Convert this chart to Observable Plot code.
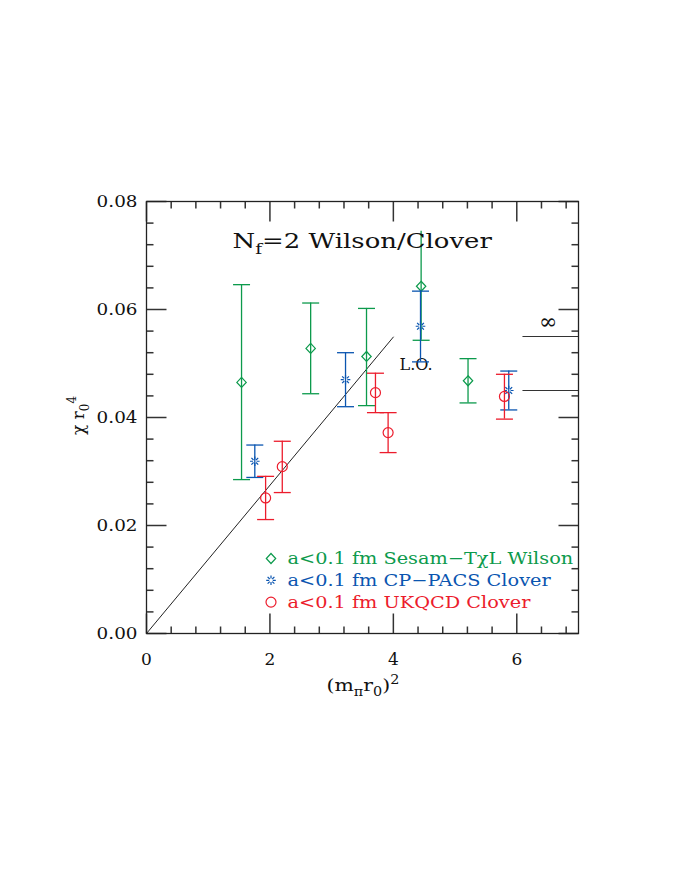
<!DOCTYPE html>
<html>
<head>
<meta charset="utf-8">
<script src="https://cdn.jsdelivr.net/npm/d3@7"></script>
<script src="https://cdn.jsdelivr.net/npm/@observablehq/plot@0.6"></script>
<style>
  html, body { margin: 0; padding: 0; background: #fff; }
</style>
</head>
<body>
<div id="chart"></div>
<script>
// ---- data ----
const greenX  = [1.54, 2.66, 3.565, 4.45, 5.21];
const greenY  = [0.0465, 0.0528, 0.0513, 0.0643, 0.0468];
const greenHi = [0.0646, 0.0612, 0.0602, 0.0745, 0.0509];
const greenLo = [0.0285, 0.0444, 0.0422, 0.0543, 0.0427];

const blueX  = [1.755, 3.225, 4.44, 5.87];
const blueY  = [0.0319, 0.0470, 0.0569, 0.0450];
const blueHi = [0.0349, 0.0520, 0.0634, 0.0486];
const blueLo = [0.0289, 0.0420, 0.0503, 0.0414];

const redX  = [1.93, 2.20, 3.71, 3.915, 5.80];
const redY  = [0.0251, 0.0309, 0.0446, 0.0372, 0.0439];
const redHi = [0.0291, 0.0356, 0.0482, 0.0409, 0.0480];
const redLo = [0.0211, 0.0261, 0.0409, 0.0335, 0.0397];

const loX = [0, 4.0];
const loY = [0, 0.0549];

const limitY = [0.055, 0.045];
const limitX1 = 6.1;

const xMajor = [0, 2, 4, 6];
const yMajor = [0, 0.02, 0.04, 0.06, 0.08];
const xMinor = d3.range(0, 7.01, 0.4).filter(v => Math.abs(v / 2 - Math.round(v / 2)) > 1e-6);
const yMinor = d3.range(0, 0.0801, 0.004).filter(v => Math.abs(v / 0.02 - Math.round(v / 0.02)) > 1e-6);

const legendLabels = ["a<0.1 fm Sesam\u2212T\u03c7L Wilson", "a<0.1 fm CP\u2212PACS Clover", "a<0.1 fm UKQCD Clover"];

const GREEN = "#0c9a4c", BLUE = "#0a55b0", RED = "#ec1c2c";

const mk = (X, Y, Hi, Lo) => X.map((x, i) => ({x, y: Y[i], hi: Hi[i], lo: Lo[i]}));
const green = mk(greenX, greenY, greenHi, greenLo);
const blue = mk(blueX, blueY, blueHi, blueLo);
const red = mk(redX, redY, redHi, redLo);
const lo = loX.map((x, i) => ({x, y: loY[i]}));

// ---- symbols ----
const seg = (x1, y1, x2, y2) => ({draw(c) { c.moveTo(x1, y1); c.lineTo(x2, y2); }});
const cap = seg(-8.5, 0, 8.5, 0);
const diamond = {draw(c) { c.moveTo(0, -5); c.lineTo(4.7, 0); c.lineTo(0, 5); c.lineTo(-4.7, 0); c.closePath(); }};
const circle = {draw(c) { c.moveTo(5, 0); c.arc(0, 0, 5, 0, 2 * Math.PI); }};
const star = {draw(c) {
  for (let k = 0; k < 8; k++) {
    const a = k * Math.PI / 4;
    const r1 = 1.8, r2 = 4.8;
    c.moveTo(r1 * Math.cos(a), r1 * Math.sin(a));
    c.lineTo(r2 * Math.cos(a), r2 * Math.sin(a));
  }
}};
const MAJ = 20, MIN = 7;

const errMarks = (data, color, symbol) => [
  Plot.ruleX(data, {x: "x", y1: "lo", y2: "hi", stroke: color, strokeWidth: 1.3}),
  Plot.dot(data.filter(d => d.hi < 0.07), {x: "x", y: "hi", symbol: cap, stroke: color, fill: "none", strokeWidth: 1.3}),
  Plot.dot(data, {x: "x", y: "lo", symbol: cap, stroke: color, fill: "none", strokeWidth: 1.3}),
  Plot.dot(data, {x: "x", y: "y", symbol, stroke: color, fill: "none", strokeWidth: 1.2})
];

const tickMarks = [
  Plot.dot(xMinor, {x: d => d, y: 0, symbol: seg(0, 0, 0, -MIN), stroke: "#333", fill: "none"}),
  Plot.dot(xMajor, {x: d => d, y: 0, symbol: seg(0, 0, 0, -MAJ), stroke: "#333", fill: "none"}),
  Plot.dot(xMinor, {x: d => d, y: 0.08, symbol: seg(0, 0, 0, MIN), stroke: "#333", fill: "none"}),
  Plot.dot(xMajor, {x: d => d, y: 0.08, symbol: seg(0, 0, 0, MAJ), stroke: "#333", fill: "none"}),
  Plot.dot(yMinor, {y: d => d, x: 0, symbol: seg(0, 0, MIN, 0), stroke: "#333", fill: "none"}),
  Plot.dot(yMajor, {y: d => d, x: 0, symbol: seg(0, 0, MAJ, 0), stroke: "#333", fill: "none"}),
  Plot.dot(yMinor, {y: d => d, x: 7, symbol: seg(0, 0, -MIN, 0), stroke: "#333", fill: "none"}),
  Plot.dot(yMajor, {y: d => d, x: 7, symbol: seg(0, 0, -MAJ, 0), stroke: "#333", fill: "none"})
];

const legendColors = [GREEN, BLUE, RED];
const legendSymbols = [diamond, star, circle];
const legendMarks = legendLabels.flatMap((label, i) => [
  Plot.dot([label], {frameAnchor: "top-left", dx: 124.5, dy: 357 + i * 21.8, symbol: legendSymbols[i], stroke: legendColors[i], fill: "none", strokeWidth: 1.2}),
  Plot.text([label], {frameAnchor: "top-left", dx: 141, dy: 357 + i * 21.8, text: d => d, textAnchor: "start", lineAnchor: "middle", fill: legendColors[i], fontSize: 17, className: "legend-text"})
]);

const chart = Plot.plot({
  width: 681,
  height: 881,
  marginLeft: 146,
  marginRight: 103,
  marginTop: 201,
  marginBottom: 248,
  style: {fontFamily: "DejaVu Serif", fontSize: "17px", background: "#fff", color: "#111"},
  x: {domain: [0, 7], label: null},
  y: {domain: [0, 0.08], label: null},
  marks: [
    Plot.axisX({ticks: xMajor, tickSize: 0, tickPadding: 19, fontSize: 17, tickFormat: d3.format("d"), label: null, className: "xaxis"}),
    Plot.axisY({ticks: yMajor, tickSize: 0, tickPadding: 9, fontSize: 17, tickFormat: d3.format(".2f"), label: null, className: "yaxis"}),
    ...tickMarks,
    Plot.line(lo, {x: "x", y: "y", stroke: "#222", strokeWidth: 1}),
    Plot.ruleY(limitY, {x1: limitX1, x2: 7, y: d => d, stroke: "#333", strokeWidth: 1.2}),
    Plot.text(["\u221e"], {x: 6.51, y: 0.0577, text: d => d, fontSize: 22, fill: "#111"}),
    Plot.text(["L.O."], {x: 4.1, y: 0.0498, text: d => d, textAnchor: "start", fontSize: 16, fill: "#111"}),
    ...errMarks(green, GREEN, diamond),
    ...errMarks(blue, BLUE, star),
    ...errMarks(red, RED, circle),
    ...legendMarks,
    Plot.text(["title"], {frameAnchor: "top-left", dx: 86, dy: 40, text: d => d, textAnchor: "start", lineAnchor: "middle", fontSize: 19.5, className: "title-text"}),
    Plot.text(["xlabel"], {frameAnchor: "bottom-left", dx: 180, dy: 52, text: d => d, textAnchor: "start", lineAnchor: "middle", fontSize: 17, className: "xlabel-text"}),
    Plot.text(["ylabel"], {frameAnchor: "left", dx: -68, dy: -2, text: d => d, rotate: -90, textAnchor: "middle", lineAnchor: "middle", fontSize: 17, className: "ylabel-text"}),
    Plot.frame({stroke: "#222", strokeWidth: 1.3})
  ]
});

document.getElementById("chart").appendChild(chart);

// rich text (subscripts / superscripts)
function rich(cls, parts) {
  const t = chart.querySelector("." + cls + " text");
  if (!t) return;
  while (t.firstChild) t.removeChild(t.firstChild);
  for (const [s, shift, size] of parts) {
    const ts = document.createElementNS("http://www.w3.org/2000/svg", "tspan");
    ts.textContent = s;
    if (shift) ts.setAttribute("dy", shift);
    if (size) ts.setAttribute("font-size", size);
    t.appendChild(ts);
  }
}
rich("title-text", [["N"], ["f", 6, 14], ["=2 Wilson/Clover", -6]]);
rich("xlabel-text", [["(m"], ["\u03c0", 5, 12], ["r", -5], ["0", 5, 12], [")", -5], ["2", -7, 12]]);
rich("ylabel-text", [["\u03c7 r"], ["0", 5, 12], ["4", -13, 12]]);

// widen glyphs to mimic the wide serif face of the original
function stretch(sel, sx) {
  chart.querySelectorAll(sel).forEach(t => {
    const tr = t.getAttribute("transform") || "";
    t.setAttribute("transform", tr + ` scale(${sx},1)`);
  });
}
stretch(".title-text text", 1.33);
stretch(".legend-text text", 1.135);
stretch(".yaxis text", 1.08);
stretch(".xlabel-text text", 1.2);
</script>
</body>
</html>
